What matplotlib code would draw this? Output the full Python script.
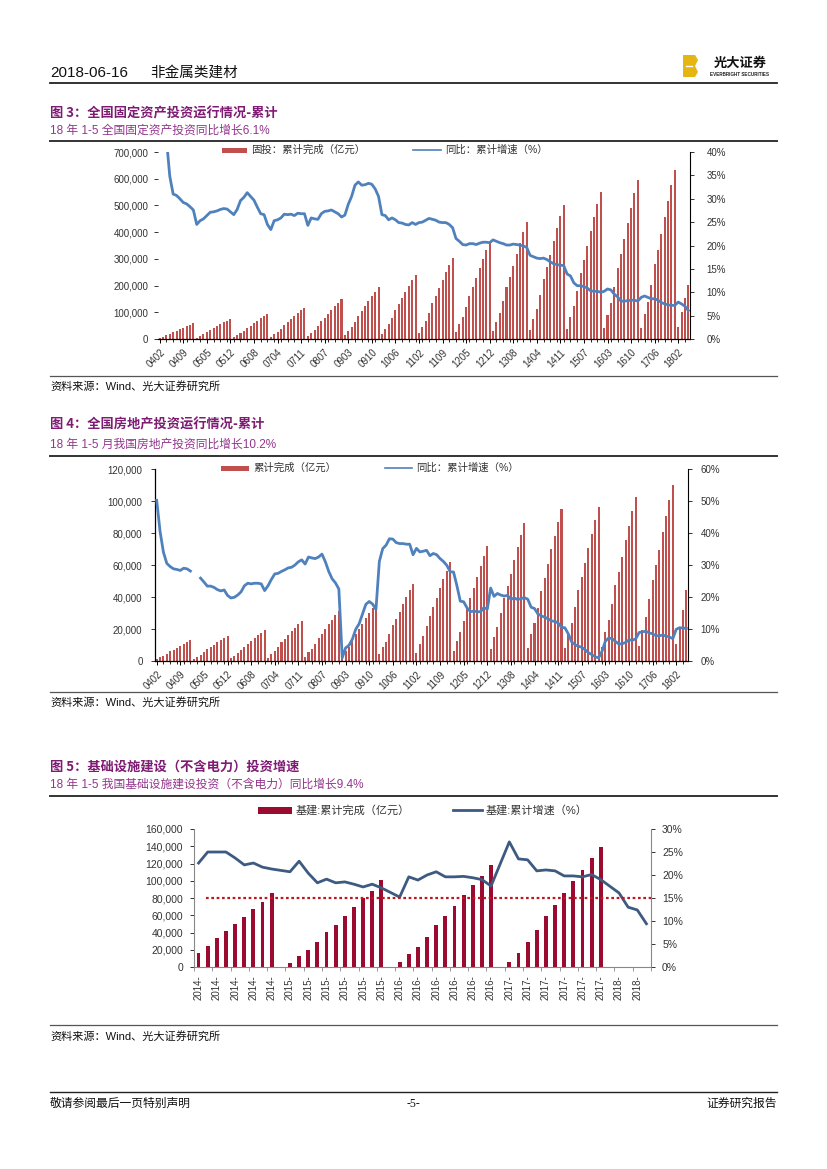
import numpy as np
import matplotlib
matplotlib.use('Agg')
import matplotlib.pyplot as plt
from matplotlib.patches import Rectangle, Polygon
from matplotlib.lines import Line2D
from matplotlib.ticker import FuncFormatter, FixedLocator, MultipleLocator

plt.rcParams['font.family'] = ['Liberation Sans', 'Noto Sans CJK SC', 'DejaVu Sans']

nan = np.nan

# ---------------- data: chart 3 (fixed asset investment, cumulative) ----------------
month_ticks = ['0402', '0409', '0505', '0512', '0608', '0704', '0711', '0807', '0903', '0910',
               '1006', '1102', '1109', '1205', '1212', '1308', '1404', '1411', '1507', '1603',
               '1610', '1706', '1802']

fai_value = [
    4100, 8800, 13200, 19100, 26100, 31400, 36900, 42800, 48400, 53600, 58620,
    5300, 11300, 16900, 24400, 33400, 40200, 47300, 54800, 62000, 68700, 75096,
    6500, 14000, 21000, 30400, 41600, 50000, 58900, 68200, 77100, 85500, 93472,
    8200, 17600, 26400, 38200, 52200, 62800, 74000, 85700, 96900, 107400, 117414,
    10400, 22200, 33300, 48200, 65900, 79300, 93300, 108200, 122200, 135600, 148167,
    13600, 29100, 43700, 63100, 86400, 103900, 122300, 141700, 160200, 177600, 194139,
    16900, 36200, 54300, 78500, 107400, 129200, 152100, 176200, 199200, 220900, 241415,
    21100, 45300, 67900, 98100, 134400, 161500, 190200, 220400, 249100, 276300, 301933,
    25500, 54700, 82100, 118600, 162400, 195200, 229800, 266300, 301000, 333800, 364835,
    30600, 65500, 98200, 141900, 194300, 233500, 275000, 318700, 360100, 399400, 436528,
    35100, 75300, 113000, 163200, 223400, 268600, 316300, 366500, 414200, 459300, 502005,
    38600, 82700, 124100, 179300, 245500, 295100, 347500, 402700, 455100, 504700, 551590,
    41800, 89500, 134200, 193900, 265400, 319100, 375800, 435400, 492100, 545800, 596501,
    41378, 93777, 139013, 203716, 280605, 334730, 394150, 458478, 517818, 575057, 631684,
    44944, 100763, 152369, 202761]

fai_growth = [
    53.0, 47.8, 42.8, 34.8, 31.0, 30.7, 30.0, 29.2, 28.9, 28.3, 27.6,
    24.5, 25.3, 25.7, 26.4, 27.1, 27.2, 27.4, 27.7, 27.9, 27.8, 27.2,
    26.6, 27.7, 29.6, 30.3, 31.3, 30.5, 29.7, 28.2, 26.8, 26.6, 24.5,
    23.4, 25.3, 25.5, 25.9, 26.7, 26.6, 26.7, 26.4, 26.9, 26.8, 26.8,
    24.3, 25.9, 25.7, 25.6, 26.8, 27.3, 27.4, 27.6, 27.2, 26.8, 26.1,
    26.5, 28.8, 30.5, 32.9, 33.6, 32.9, 33.0, 33.3, 33.1, 32.1, 30.5,
    26.6, 26.4, 25.5, 25.9, 25.5, 24.9, 24.8, 24.5, 24.4, 24.9, 24.5,
    24.9, 25.0, 25.4, 25.8, 25.6, 25.4, 25.0, 24.9, 24.9, 24.5, 23.8,
    21.5, 20.9, 20.2, 20.1, 20.4, 20.4, 20.2, 20.5, 20.7, 20.7, 20.6,
    21.2, 20.9, 20.6, 20.4, 20.1, 20.1, 20.3, 20.2, 20.1, 19.9, 19.6,
    17.9, 17.6, 17.3, 17.2, 17.3, 17.0, 16.5, 16.1, 15.9, 15.8, 15.7,
    13.9, 13.5, 12.0, 11.4, 11.4, 11.2, 10.9, 10.3, 10.2, 10.2, 10.0,
    10.2, 10.7, 10.5, 9.6, 9.0, 8.1, 8.1, 8.2, 8.3, 8.3, 8.1,
    8.9, 9.2, 8.9, 8.6, 8.6, 8.3, 7.8, 7.5, 7.3, 7.2, 7.2,
    7.9, 7.5, 7.0, 6.1]

# ---------------- data: chart 4 (real estate investment, cumulative) ----------------
re_value = [
    1120, 2300, 3290, 4610, 6050, 7170, 8360, 9670, 10860, 12040, 13158,
    1350, 2780, 3980, 5570, 7320, 8670, 10100, 11690, 13120, 14560, 15909,
    1650, 3400, 4860, 6800, 8930, 10590, 12330, 14280, 16020, 17770, 19423,
    2150, 4430, 6320, 8850, 11630, 13780, 16060, 18590, 20860, 23140, 25289,
    2650, 5460, 7800, 10920, 14350, 17010, 19810, 22930, 25740, 28550, 31203,
    3080, 6340, 9060, 12690, 16670, 19750, 23010, 26640, 29900, 33160, 36242,
    4100, 8450, 12060, 16890, 22200, 26300, 30640, 35470, 39810, 44160, 48259,
    5250, 10810, 15450, 21630, 28430, 33680, 39240, 45420, 50980, 56540, 61797,
    6100, 12570, 17950, 25130, 33030, 39130, 45600, 52780, 59240, 65700, 71804,
    7310, 15050, 21500, 30100, 39570, 46880, 54620, 63220, 70960, 78700, 86013,
    8080, 16630, 23760, 33260, 43720, 51790, 60350, 69850, 78400, 86960, 95036,
    8160, 16800, 24000, 33590, 44150, 52310, 60950, 70540, 79180, 87820, 95979,
    8720, 17950, 25650, 35900, 47190, 55910, 65140, 75400, 84630, 93860, 102581,
    9478, 19292, 27732, 38716, 50610, 59761, 69469, 80644, 90544, 100387, 109799,
    10357, 21291, 31767, 44621]

re_growth = [
    50.2, 40.5, 34.0, 30.5, 29.5, 28.8, 28.6, 28.3, 29.0, 28.8, 28.1,
    nan, nan, 25.9, 24.7, 23.4, 23.4, 23.0, 22.3, 21.9, 22.2, 20.5,
    19.7, 19.9, 20.6, 21.6, 23.5, 24.3, 24.1, 24.3, 24.3, 24.1, 22.0,
    23.5, 25.5, 27.2, 27.4, 28.0, 28.5, 29.1, 29.3, 30.0, 31.0, 31.6,
    30.3, 32.5, 32.2, 32.0, 32.5, 33.4, 31.0, 28.0, 25.7, 24.4, 22.5,
    1.0, 4.1, 4.9, 6.8, 9.9, 11.6, 14.7, 17.7, 18.6, 17.8, 16.1,
    31.1, 35.1, 36.2, 38.2, 38.1, 37.0, 36.7, 36.7, 36.5, 36.5, 33.2,
    35.2, 34.1, 34.3, 34.6, 32.9, 33.6, 33.2, 32.0, 31.1, 29.9, 27.9,
    27.8, 23.5, 18.7, 18.5, 16.6, 15.4, 15.6, 15.4, 15.4, 16.7, 16.2,
    22.8, 20.2, 21.1, 20.6, 20.3, 20.5, 19.3, 19.7, 19.2, 19.5, 19.8,
    19.3, 16.8, 16.4, 14.7, 14.1, 13.7, 13.2, 12.5, 12.4, 11.9, 10.5,
    10.4, 8.5, 6.0, 5.1, 4.6, 4.3, 3.5, 2.6, 2.0, 1.3, 1.0,
    3.0, 6.2, 7.2, 7.0, 6.1, 5.3, 5.4, 5.8, 6.6, 6.5, 6.9,
    8.9, 9.1, 9.3, 8.8, 8.5, 7.9, 7.9, 8.1, 7.8, 7.5, 7.0,
    9.9, 10.4, 10.3, 10.2]

# ---------------- data: chart 5 (infrastructure excl. power) ----------------
infra_ticks = ['2014-', '2014-', '2014-', '2014-', '2014-',
               '2015-', '2015-', '2015-', '2015-', '2015-', '2015-',
               '2016-', '2016-', '2016-', '2016-', '2016-', '2016-',
               '2017-', '2017-', '2017-', '2017-', '2017-', '2017-',
               '2018-', '2018-']

infra_value = [
    16200, 24300, 33600, 41700, 49900, 58000, 67200, 75400, 85800,
    nan, 4600, 12700, 19700, 29000, 40600, 48700, 59100, 69600, 80000, 88100, 100900,
    nan, 5800, 15000, 23200, 34800, 48700, 59100, 70700, 83500, 95000, 105500, 118000,
    nan, 6000, 16000, 29500, 42500, 59000, 72000, 86000, 100000, 112000, 126000, 139000,
    nan, nan, nan, nan, nan]

infra_growth = [
    22.6, 25.0, 25.0, 25.0, 23.7, 22.2, 22.6, 21.7, 21.3,
    nan, 20.7, 23.0, 20.4, 18.3, 19.1, 18.3, 18.5, 18.0, 17.4, 18.0, 17.2,
    nan, 15.2, 19.6, 18.9, 20.0, 20.7, 19.6, 19.6, 19.7, 19.4, 19.0, 17.6,
    nan, 27.2, 23.5, 23.3, 20.9, 21.1, 20.9, 19.8, 19.8, 19.6, 20.1, 19.0,
    nan, 16.1, 13.0, 12.4, 9.4]

infra_reference = 15.0

# ---------------- colours ----------------
BAR_RED = '#C0504D'
LINE_BLUE = '#4F81BD'
INFRA_BAR = '#9B0B2F'
INFRA_LINE = '#3D5A80'
TITLE_PURPLE = '#7E1B72'
SUB_PURPLE = '#93358C'
TICK_COL = '#333333'

W, H = 827, 1169
fig = plt.figure(figsize=(W / 100, H / 100), dpi=100)


def fx(x):
    return x / W


def fy(y):
    return 1 - y / H


def axes_px(l, t, r, b):
    return fig.add_axes([fx(l), fy(b), (r - l) / W, (b - t) / H])


def text(x, y, s, **kw):
    kw.setdefault('va', 'center')
    fig.text(fx(x), fy(y), s, **kw)


def hline(x0, x1, y, lw=1.0, color='k', ls='-'):
    fig.add_artist(Line2D([fx(x0), fx(x1)], [fy(y), fy(y)], lw=lw, color=color, ls=ls,
                          transform=fig.transFigure))


def rect(x0, y0, x1, y1, color):
    fig.add_artist(Rectangle((fx(x0), fy(y1)), (x1 - x0) / W, (y1 - y0) / H,
                             facecolor=color, edgecolor='none', transform=fig.transFigure))


CJK = ['Noto Sans CJK SC', 'DejaVu Sans']

# ---------------- header ----------------
text(50, 73, '2018-06-16', fontsize=11, color='#111111')
text(150, 73, '非金属类建材', fontsize=10.5, color='#111111', family=CJK)
hline(50, 777, 83, lw=1.3, color='#222222')
# logo
fig.add_artist(Polygon([(fx(683), fy(55)), (fx(695), fy(55)), (fx(698), fy(60)), (fx(695), fy(66)),
                        (fx(698), fy(72)), (fx(695), fy(77)), (fx(683), fy(77))],
                       closed=True, facecolor='#E5B512', edgecolor='none', transform=fig.transFigure))
fig.add_artist(Line2D([fx(686), fx(692)], [fy(66), fy(66)], lw=1.0, color='white',
                      transform=fig.transFigure))
text(740, 63, '光大证券', fontsize=9.5, weight='bold', ha='center', family=CJK, color='#111111')
text(740, 74, 'EVERBRIGHT SECURITIES', fontsize=3.3, weight='bold', ha='center', color='#222222')


def titles(y_title, y_sub, y_line, title, sub):
    text(50, y_title, title, fontsize=9.5, weight='bold', color=TITLE_PURPLE, family=CJK)
    text(50, y_sub, sub, fontsize=8.5, color=SUB_PURPLE, family=['Liberation Sans', 'Noto Sans CJK SC'])
    hline(50, 777, y_line, lw=1.4, color='#333333')


def source(y_line, y_text):
    hline(50, 777, y_line, lw=0.9, color='#555555')
    text(50, y_text, '资料来源：Wind、光大证券研究所', fontsize=8, color='#111111')


def legend_items(y, bar_x0, bar_x1, bar_label, line_x0, line_x1, line_label, bar_color, line_color,
                 bar_h=5, fs=7.5, line_lw=1.2):
    rect(bar_x0, y - bar_h / 2, bar_x1, y + bar_h / 2, bar_color)
    text(bar_x1 + 4, y, bar_label, fontsize=fs, color='#333333')
    fig.add_artist(Line2D([fx(line_x0), fx(line_x1)], [fy(y), fy(y)], lw=line_lw, color=line_color,
                          transform=fig.transFigure))
    text(line_x1 + 4, y, line_label, fontsize=fs, color='#333333')


def style_month_axes(ax, axr, n):
    ax.set_xlim(-0.5, n - 0.5)
    ax.set_xticks(np.arange(0, n, 7)[:len(month_ticks)])
    ax.set_xticklabels(month_ticks, rotation=45, ha='right', rotation_mode='anchor',
                       fontsize=7, color=TICK_COL)
    ax.xaxis.set_minor_locator(MultipleLocator(2))
    ax.tick_params(axis='x', which='major', length=3, width=0.7, pad=3)
    ax.tick_params(axis='x', which='minor', length=2, width=0.6)
    for s in ['top', 'right']:
        ax.spines[s].set_visible(False)
        axr.spines[s].set_visible(False) if s == 'top' else None
    axr.spines['left'].set_visible(False)
    axr.spines['bottom'].set_visible(False)
    axr.spines['right'].set_linewidth(0.8)
    ax.spines['bottom'].set_linewidth(0.9)
    ax.set_zorder(1)
    axr.set_zorder(2)
    ax.patch.set_visible(False)
    axr.patch.set_visible(False)


# ================= Chart 3 =================
titles(113, 131, 141, '图 3：全国固定资产投资运行情况-累计', '18 年 1-5 全国固定资产投资同比增长6.1%')
ax3 = axes_px(158, 152, 690, 339)
x3 = np.arange(len(fai_value))
ax3.bar(x3, fai_value, width=0.6, color=BAR_RED, linewidth=0)
ax3.set_ylim(0, 700000)
ax3.set_yticks(np.arange(0, 700001, 100000))
ax3.yaxis.set_major_formatter(FuncFormatter(lambda v, p: f'{int(v):,}'))
ax3.tick_params(axis='y', length=3, width=0.7, labelsize=7, colors=TICK_COL, pad=4)
ax3.spines['left'].set_visible(False)
ax3r = ax3.twinx()
ax3r.plot(x3, fai_growth, color=LINE_BLUE, lw=2.0, solid_joinstyle='round')
ax3r.set_ylim(0, 40)
ax3r.set_yticks(np.arange(0, 41, 5))
ax3r.yaxis.set_major_formatter(FuncFormatter(lambda v, p: f'{int(v)}%'))
ax3r.tick_params(axis='y', length=3, width=0.7, labelsize=7, colors=TICK_COL, pad=9)
style_month_axes(ax3, ax3r, len(fai_value))
legend_items(150, 222, 247, '固投：累计完成（亿元）', 413, 441, '同比：累计增速（%）', BAR_RED, LINE_BLUE)
source(376, 386)

# ================= Chart 4 =================
titles(424, 445, 456, '图 4：全国房地产投资运行情况-累计', '18 年 1-5 月我国房地产投资同比增长10.2%')
ax4 = axes_px(155, 469, 688, 661)
x4 = np.arange(len(re_value))
ax4.bar(x4, re_value, width=0.6, color=BAR_RED, linewidth=0)
ax4.set_ylim(0, 120000)
ax4.set_yticks(np.arange(0, 120001, 20000))
ax4.yaxis.set_major_formatter(FuncFormatter(lambda v, p: f'{int(v):,}'))
ax4.tick_params(axis='y', length=3, width=0.7, labelsize=7, colors=TICK_COL, pad=6)
ax4.spines['left'].set_linewidth(0.9)
ax4r = ax4.twinx()
ax4r.plot(x4, re_growth, color=LINE_BLUE, lw=2.0, solid_joinstyle='round')
ax4r.set_ylim(0, 60)
ax4r.set_yticks(np.arange(0, 61, 10))
ax4r.yaxis.set_major_formatter(FuncFormatter(lambda v, p: f'{int(v)}%'))
ax4r.tick_params(axis='y', length=3, width=0.7, labelsize=7, colors=TICK_COL, pad=6)
style_month_axes(ax4, ax4r, len(re_value))
legend_items(468, 221, 249, '累计完成（亿元）', 385, 412, '同比：累计增速（%）', BAR_RED, LINE_BLUE)
source(692, 702)

# ================= Chart 5 =================
titles(767, 785, 796, '图 5：基础设施建设（不含电力）投资增速',
       '18 年 1-5 我国基础设施建设投资（不含电力）同比增长9.4%')
ax5 = axes_px(194, 829, 651, 967)
x5 = np.arange(len(infra_value))
ax5.bar(x5, infra_value, width=0.42, color=INFRA_BAR, linewidth=0)
ax5.set_xlim(-0.5, len(infra_value) - 0.5)
ax5.set_ylim(0, 160000)
ax5.set_yticks(np.arange(0, 160001, 20000))
ax5.yaxis.set_major_formatter(FuncFormatter(lambda v, p: f'{int(v):,}'))
ax5.tick_params(axis='y', length=3, width=0.7, labelsize=7.5, colors=TICK_COL, pad=5)
ax5.set_xticks(np.arange(0, len(infra_value), 2)[:len(infra_ticks)])
ax5.set_xticklabels(infra_ticks, rotation=90, fontsize=7, color=TICK_COL, va='top', ha='center')
ax5.xaxis.set_minor_locator(MultipleLocator(2))
ax5.xaxis.set_minor_locator(FixedLocator(np.arange(-0.5, len(infra_value), 2)))
ax5.tick_params(axis='x', which='major', length=0, pad=6)
ax5.tick_params(axis='x', which='minor', length=3, width=0.6, color='#888888')
for s in ['top', 'right']:
    ax5.spines[s].set_visible(False)
ax5.spines['left'].set_color('#888888')
ax5.spines['bottom'].set_color('#888888')
ax5r = ax5.twinx()
g5 = np.array(infra_growth)
ok = ~np.isnan(g5)
ax5r.plot(x5[ok], g5[ok], color=INFRA_LINE, lw=2.0, solid_joinstyle='round')
ax5r.hlines(infra_reference, 0.8, len(infra_value) - 0.5, colors='#C0171F', linestyles=(0, (1.2, 1.2)),
            lw=1.6)
ax5r.set_ylim(0, 30)
ax5r.set_yticks(np.arange(0, 31, 5))
ax5r.yaxis.set_major_formatter(FuncFormatter(lambda v, p: f'{int(v)}%'))
ax5r.tick_params(axis='y', length=3, width=0.7, labelsize=7.5, colors=TICK_COL, pad=5)
for s in ['top', 'left', 'bottom']:
    ax5r.spines[s].set_visible(False)
ax5r.spines['right'].set_color('#888888')
ax5.set_zorder(1)
ax5r.set_zorder(2)
ax5.patch.set_visible(False)
ax5r.patch.set_visible(False)
legend_items(810, 258, 292, '基建:累计完成（亿元）', 453, 482, '基建:累计增速（%）', INFRA_BAR, INFRA_LINE,
             bar_h=7, fs=8, line_lw=2.0)
source(1025, 1036)

# ---------------- footer ----------------
hline(50, 777, 1092, lw=1.0, color='#222222')
text(50, 1104, '敬请参阅最后一页特别声明', fontsize=8.5, color='#111111')
text(413, 1104, '-5-', fontsize=8.5, color='#111111', ha='center', family=['Liberation Serif'])
text(777, 1104, '证券研究报告', fontsize=8.5, color='#111111', ha='right')

fig.savefig('out.png', dpi=100)
